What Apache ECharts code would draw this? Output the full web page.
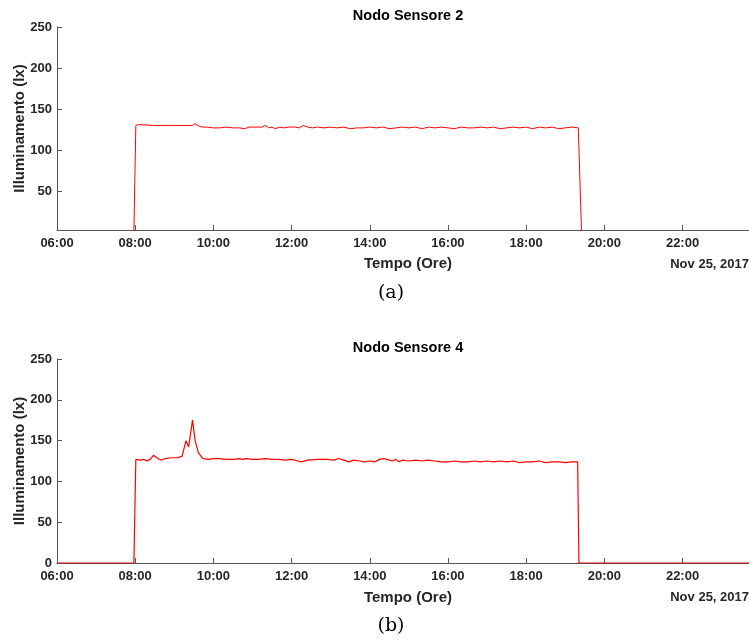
<!DOCTYPE html>
<html>
<head>
<meta charset="utf-8">
<script src="https://cdn.jsdelivr.net/npm/echarts@6.0.0/dist/echarts.min.js"></script>
<style>
  html, body { margin: 0; padding: 0; background: #fff; }
  #main { width: 749px; height: 640px; }
</style>
</head>
<body>
<div id="main"></div>
<script>
// x ticks (hours of the day)
const xTickLabels = ['06:00', '08:00', '10:00', '12:00', '14:00', '16:00', '18:00', '20:00', '22:00']
const yTicks = [50, 100, 150, 200, 250]
const yTicksB = [0, 50, 100, 150, 200, 250]

// Nodo Sensore 2
const timesS2 = ['06:00', '07:58', '08:01', '08:05', '08:08', '08:30', '09:00', '09:28', '09:32', '09:36',
  '09:42', '09:50', '10:00', '10:10', '10:20', '10:30', '10:40', '10:48', '10:55', '11:05',
  '11:15', '11:20', '11:25', '11:30', '11:35', '11:42', '11:48', '11:55', '12:05', '12:12',
  '12:18', '12:25', '12:32', '12:40', '12:50', '13:00', '13:10', '13:20', '13:30', '13:40',
  '13:50', '14:00', '14:10', '14:20', '14:30', '14:40', '14:50', '15:00', '15:10', '15:20',
  '15:30', '15:40', '15:50', '16:00', '16:10', '16:20', '16:30', '16:40', '16:50', '17:00',
  '17:10', '17:20', '17:30', '17:40', '17:50', '18:00', '18:10', '18:20', '18:30', '18:40',
  '18:50', '19:00', '19:10', '19:20', '19:22', '19:25', '23:42']
const valuesS2 = [0, 0, 130, 131, 130, 130, 130, 130, 132, 130,
  128, 128, 127, 127, 128, 127, 127, 126, 128, 128,
  128, 130, 127, 128, 126, 128, 127, 128, 128, 127,
  130, 128, 127, 128, 127, 128, 127, 128, 126, 127,
  127, 128, 127, 128, 126, 127, 128, 127, 128, 126,
  128, 127, 128, 127, 126, 128, 127, 127, 128, 127,
  128, 126, 127, 128, 127, 128, 126, 128, 127, 128,
  126, 127, 128, 127, 127, 0, 0]

// Nodo Sensore 4
const timesS4 = ['06:00', '07:58', '08:01', '08:08', '08:13', '08:18', '08:23', '08:28', '08:33', '08:40',
  '08:46', '08:55', '09:05', '09:12', '09:18', '09:22', '09:28', '09:32', '09:37', '09:44',
  '09:52', '10:00', '10:10', '10:20', '10:30', '10:40', '10:45', '10:50', '11:00', '11:10',
  '11:20', '11:30', '11:40', '11:50', '12:00', '12:10', '12:15', '12:25', '12:40', '12:55',
  '13:05', '13:12', '13:20', '13:28', '13:35', '13:45', '13:52', '14:00', '14:08', '14:15',
  '14:22', '14:30', '14:35', '14:40', '14:45', '14:50', '15:00', '15:10', '15:20', '15:30',
  '15:40', '15:50', '16:00', '16:10', '16:20', '16:30', '16:40', '16:50', '17:00', '17:10',
  '17:20', '17:30', '17:40', '17:50', '18:00', '18:10', '18:20', '18:30', '18:40', '18:50',
  '19:00', '19:10', '19:19', '19:21', '23:42']
const valuesS4 = [0, 0, 127, 126, 127, 125, 127, 132, 129, 126,
  128, 129, 129, 131, 150, 142, 175, 150, 135, 128,
  127, 128, 128, 127, 127, 128, 127, 128, 127, 127,
  128, 127, 127, 126, 127, 125, 124, 126, 127, 127,
  126, 128, 126, 124, 126, 125, 124, 125, 124, 127,
  128, 126, 125, 127, 124, 126, 125, 126, 125, 126,
  125, 124, 124, 125, 124, 124, 125, 124, 125, 124,
  125, 124, 125, 123, 124, 124, 125, 123, 124, 124,
  123, 124, 124, 0, 0]

const toMin = t => {
  const [h, m] = t.split(':').map(Number)
  return h * 60 + m
}
const pairs = (times, values) => times.map((t, i) => [toMin(t), values[i]])
const fmtTime = v => String(Math.floor(v / 60)).padStart(2, '0') + ':' + String(v % 60).padStart(2, '0')

const chart = echarts.init(document.getElementById('main'))

const labelStyle = { color: '#262626', fontFamily: 'Liberation Sans', fontWeight: 'bold', fontSize: 13 }
const nameStyle = { color: '#262626', fontFamily: 'Liberation Sans', fontWeight: 'bold', fontSize: 15 }
const axisLine = { show: true, lineStyle: { color: '#555', width: 1 } }

const makeX = gridIndex => ({
  type: 'value',
  gridIndex,
  min: 360,
  max: 1422,
  interval: 120,
  axisLine,
  axisTick: { show: true, inside: true, length: 5, lineStyle: { color: '#555' } },
  axisLabel: { ...labelStyle, margin: 7, formatter: v => fmtTime(v), showMaxLabel: false },
  splitLine: { show: false }
})

const makeY = (gridIndex, min, ticks) => ({
  type: 'value',
  gridIndex,
  min,
  max: 250,
  name: 'Illuminamento (lx)',
  nameLocation: 'middle',
  nameGap: 30,
  nameMoveOverlap: false,
  nameTextStyle: nameStyle,
  axisLine,
  axisTick: { show: true, inside: true, length: 5, customValues: ticks, lineStyle: { color: '#555' } },
  axisLabel: { ...labelStyle, margin: 5, customValues: ticks },
  splitLine: { show: false }
})

const textEl = (x, y, text, font, fill, align) => ({
  type: 'text', x, y,
  style: { text, font, fill: fill || '#262626', align: align || 'center', verticalAlign: 'middle' }
})

chart.setOption({
  animation: false,
  backgroundColor: '#fff',
  grid: [
    { left: 57, top: 27, width: 692, height: 203, outerBoundsMode: 'none', containLabel: false },
    { left: 57, top: 359, width: 692, height: 204, outerBoundsMode: 'none', containLabel: false }
  ],
  xAxis: [makeX(0), makeX(1)],
  yAxis: [makeY(0, 2.5, yTicks), makeY(1, 0, yTicksB)],
  series: [
    {
      type: 'line', xAxisIndex: 0, yAxisIndex: 0,
      data: pairs(timesS2, valuesS2),
      showSymbol: false, clip: true,
      lineStyle: { color: '#ff0000', width: 1 }
    },
    {
      type: 'line', xAxisIndex: 1, yAxisIndex: 1,
      data: pairs(timesS4, valuesS4),
      showSymbol: false, clip: true,
      lineStyle: { color: '#ff0000', width: 1.2 }
    }
  ],
  graphic: [
    textEl(408, 16, 'Nodo Sensore 2', 'bold 14.5px "Liberation Sans"', '#000'),
    textEl(408, 348, 'Nodo Sensore 4', 'bold 14.5px "Liberation Sans"', '#000'),
    textEl(408, 264, 'Tempo (Ore)', 'bold 15px "Liberation Sans"'),
    textEl(749, 264, 'Nov 25, 2017', 'bold 13px "Liberation Sans"', '#262626', 'right'),
    textEl(408, 598, 'Tempo (Ore)', 'bold 15px "Liberation Sans"'),
    textEl(749, 597, 'Nov 25, 2017', 'bold 13px "Liberation Sans"', '#262626', 'right'),
    textEl(391, 293, '(a)', '19px "DejaVu Serif"', '#000'),
    textEl(391, 626, '(b)', '19px "DejaVu Serif"', '#000')
  ]
})
</script>
</body>
</html>
